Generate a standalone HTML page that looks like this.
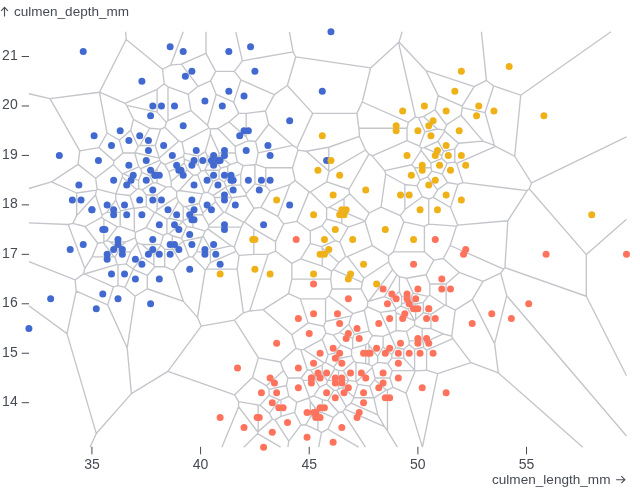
<!DOCTYPE html>
<html><head><meta charset="utf-8"><style>
html,body{margin:0;padding:0;background:#fff;}
svg{display:block;font-family:"Liberation Sans",sans-serif;will-change:transform;}
</style></head><body>
<svg width="640" height="503" viewBox="0 0 640 503">
<rect width="640" height="503" fill="#fff"/>
<path d="M321.5,246.69L310.32,243.42M321.5,246.69L322.27,248.04M321.5,246.69L335.37,240.6M322.27,248.04L322.27,266.02M322.27,248.04L338.76,262.54M335.37,240.6L339.74,242.04M335.37,240.6L321.95,225.85M310.32,230.96L296.81,221.46M310.32,230.96L310.32,243.42M310.32,230.96L321.95,225.85M310.32,243.42L300.7,258.91M300.7,258.91L291.84,263.36M300.7,258.91L322.27,266.02M322.27,266.02L331.72,271.21M345.7,256.44L347.46,256.55M345.7,256.44L339.74,242.04M345.7,256.44L338.76,262.54M338.76,262.54L333.43,269.56M339.74,242.04L348.19,227.19M326.61,219.01L326.61,208.11M326.61,219.01L321.95,225.85M326.61,219.01L341.83,223.46M341.83,223.46L341.83,212.78M341.83,223.46L348.19,227.19M291.84,279.06L288.52,293.65M291.84,279.06L330.61,279.06M291.84,279.06L291.84,263.36M333.43,269.56L362.34,282.26M333.43,269.56L331.72,271.21M348.19,227.19L364.97,221.29M331.72,271.21L330.61,279.06M330.61,279.06L332.01,288.95M341.83,212.78L344,211.82M341.83,212.78L329.23,207.24M326.61,208.11L329.23,207.24M326.61,208.11L310.31,191.99M365.04,221.07L369.14,212.98M365.04,221.07L344,211.82M365.04,221.07L364.97,221.29M344,211.82L344,198.59M363.88,278.2L388.55,261.94M363.88,278.2L347.46,256.55M363.88,278.2L362.34,282.26M347.46,256.55L372.34,245.61M364.97,221.29L372.34,245.61M309.05,191.87L295.11,180.48M309.05,191.87L296.81,221.46M309.05,191.87L310.31,191.99M296.81,221.46L283.59,223.95M329.23,207.24L344,198.59M344,198.59L349.6,193.66M275.55,251.08L268.13,254.34M275.55,251.08L291.84,263.36M275.55,251.08L275.55,241.63M332.01,288.95L328.98,296.06M332.01,288.95L361.17,288.95M362.34,282.26L361.17,288.95M328.98,296.06L352.94,313.61M328.98,296.06L325.53,298.84M283.59,223.95L277.85,216.38M283.59,223.95L275.55,241.63M289.91,184.6L270.15,191.11M289.91,184.6L277.85,216.38M289.91,184.6L295.11,180.48M277.85,216.38L260.87,207.43M393.35,251.86L403.87,221.82M393.35,251.86L388.55,255.79M393.35,251.86L424.4,251.86M372.34,245.61L388.55,255.79M349.6,193.66L369.14,212.98M349.6,193.66L348.93,189.24M361.17,288.95L367.86,301.68M253.81,228.9L253.81,254.34M253.81,228.9L275.55,241.63M253.81,228.9L244.4,222.01M300.34,298.84L308.15,322.85M300.34,298.84L325.53,298.84M300.34,298.84L288.52,293.65M325.53,298.84L325.53,321.49M368.66,301.24L384.52,296.6M368.66,301.24L392.65,269.61M368.66,301.24L367.86,301.68M244.4,222.01L243.71,222.35M244.4,222.01L254.01,208.29M268.13,254.34L253.81,254.34M268.13,254.34L249.73,310.96M253.81,254.34L239.12,255.41M288.52,293.65L263.26,309.69M369.14,212.98L381.04,207.09M310.31,191.99L326.7,181.91M348.93,189.24L368.87,154.19M348.93,189.24L326.7,181.91M384.52,296.6L396.9,274.83M384.52,296.6L390.65,299.29M388.55,255.79L388.55,261.94M263.26,309.69L291.84,334.8M263.26,309.69L249.73,310.96M325.53,321.49L323.71,326.27M325.53,321.49L351.25,315.84M326.7,181.91L329.08,171.44M323.71,326.27L325.96,333.18M323.71,326.27L308.15,322.85M352.94,313.61L351.25,315.84M352.94,313.61L364.31,310.27M295.11,180.48L292.48,167.79M260.87,207.43L270.15,191.11M260.87,207.43L254.01,208.29M270.15,191.11L265.77,186.3M367.86,301.68L367.22,306.7M388.55,261.94L392.65,269.61M329.08,171.44L328.79,171.05M329.08,171.44L365.6,150.04M328.79,171.05L328.79,147.25M328.79,171.05L306.22,151.22M292.48,167.79L297.95,150.18M292.48,167.79L265.77,167.79M365.6,150.04L359.43,136.48M365.6,150.04L368.87,154.19M367.22,306.7L380.25,312.42M367.22,306.7L364.31,310.27M291.84,334.8L295.93,348.3M291.84,334.8L308.15,322.85M348.86,324.25L354.54,334.25M348.86,324.25L351.25,315.84M348.86,324.25L339.46,332.5M265.77,167.79L255.82,164.3M265.77,167.79L265.77,186.3M265.77,186.3L254.9,183.91M339.46,332.5L352.69,338.32M339.46,332.5L333.43,335.15M396.09,308.84L400.88,306.04M396.09,308.84L390.65,299.29M396.09,308.84L395.31,310.22M390.65,299.29L399.41,291.6M392.65,269.61L396.9,274.83M396.9,274.83L399.41,276.67M381.04,207.09L400.3,215.56M381.04,207.09L385.75,174.01M399.41,276.67L406.44,278.22M399.41,276.67L399.41,291.6M404.84,209.57L404.84,184.51M404.84,209.57L400.3,215.56M404.84,209.57L422.36,196.75M359.43,136.48L358.88,128.23M359.43,136.48L328.79,147.25M333.43,335.15L340.84,344.91M333.43,335.15L325.96,333.18M354.54,334.25L352.69,338.32M354.54,334.25L369.04,331.06M364.31,310.27L369.04,331.06M246.21,195.71L232.01,197.79M246.21,195.71L254.01,208.29M246.21,195.71L246.21,193.46M239.12,255.41L236.03,251.34M239.12,255.41L237.17,269.17M369.04,331.06L372.39,335.47M401.59,296.37L411.36,296.37M401.59,296.37L399.41,291.6M401.59,296.37L401.59,304.18M241.2,227.14L208.46,227.14M241.2,227.14L234.27,246.94M241.2,227.14L243.71,222.35M254.9,164.76L243.12,165.63M254.9,164.76L254.9,183.91M254.9,164.76L255.82,164.3M254.9,183.91L246.21,193.46M380.25,312.42L389.76,333.32M380.25,312.42L395.31,310.22M352.69,338.32L352.69,348.37M396.15,330.51L406.5,331.42M396.15,330.51L396.15,312.81M396.15,330.51L389.76,333.32M243.71,222.35L225.41,212.3M225.41,212.3L223.59,212.3M225.41,212.3L232.01,197.79M401.59,304.18L411.36,299.88M401.59,304.18L400.88,306.04M406.44,278.22L413.22,293.11M406.44,278.22L426.02,274.78M400.3,215.56L403.87,221.82M368.87,154.19L372.29,155.94M325.96,333.18L322.22,339.2M352.69,348.37L351.6,349.64M352.69,348.37L365.73,344.55M234.27,246.94L236.03,251.34M234.27,246.94L231.03,245.8M236.03,251.34L210.35,262.62M249.73,310.96L243.37,312.82M400.88,306.04L408.04,309.18M413.22,293.11L427.88,296.33M413.22,293.11L411.36,296.37M306.22,151.22L297.95,150.18M306.22,151.22L328.79,147.25M297.95,150.18L297.05,147.82M240.78,185.1L232.08,185.1M240.78,185.1L246.21,193.46M240.78,185.1L240.78,173.86M237.17,269.17L206.1,269.17M237.17,269.17L243.37,312.82M424.4,226.34L428.75,224.11M424.4,226.34L403.87,221.82M424.4,226.34L424.4,251.86M424.4,251.86L433.74,260.07M411.36,296.37L411.36,299.88M231.03,245.8L211.12,250.18M231.03,245.8L207.9,228.87M206.1,269.17L210.35,262.62M206.1,269.17L205.21,269.85M207.9,228.87L208.46,227.14M207.9,228.87L205.17,231.03M303.57,349.44L324.01,362.91M303.57,349.44L322.22,339.2M303.57,349.44L300.84,349.84M322.22,339.2L328.06,354.59M243.37,312.82L234.53,320.04M395.31,310.22L396.15,312.81M411.36,299.88L414.27,303.71M396.15,312.81L414.62,320.93M414.27,303.71L415.71,304.03M414.27,303.71L408.04,309.18M232.01,197.79L231.64,197.47M208.46,227.14L208.76,225.33M210.35,262.62L210.35,251.86M334.58,353.16L340.38,358.26M334.58,353.16L340.84,344.91M334.58,353.16L328.06,354.59M340.84,344.91L351.6,349.64M389.76,333.32L389.5,333.6M372.39,335.47L383.11,336.41M372.39,335.47L367.97,343.24M408.04,309.18L414.65,320.8M231.64,197.47L225.73,187.08M231.64,197.47L214.38,197.47M223.59,212.3L215.61,201.78M223.59,212.3L208.76,225.33M225.73,187.08L213.18,195.35M225.73,187.08L225.93,186.45M240.78,173.86L232.08,177.68M240.78,173.86L243.12,165.63M414.65,320.8L415.71,319.41M414.65,320.8L414.62,320.93M385.75,174.01L384.67,170.71M385.75,174.01L404.84,184.51M232.08,177.68L227.74,177.68M232.08,177.68L232.08,185.1M232.08,185.1L225.93,186.45M328.06,354.59L325.52,362.42M351.6,349.64L351.6,355.8M325.52,362.42L333.63,367.17M325.52,362.42L324.01,362.91M426.02,274.78L433.74,260.07M426.02,274.78L429.84,284.01M433.74,260.07L443.31,258.49M427.88,296.33L429.84,295.26M427.88,296.33L423.32,302.36M292.6,145.31L268.67,124.27M292.6,145.31L258.18,152.87M292.6,145.31L297.05,147.82M243.12,165.63L237.43,162.13M351.6,355.8L354.04,361.16M351.6,355.8L340.38,358.26M415.71,319.41L423.32,312.72M415.71,319.41L415.71,304.03M415.71,304.03L423.32,302.36M423.32,312.72L423.32,302.36M423.32,312.72L430.92,314.39M416.83,185.82L420.12,180.04M416.83,185.82L404.84,184.51M416.83,185.82L422.36,196.75M422.36,196.75L428.75,198.99M255.82,164.3L258.18,152.87M225.93,186.45L224.31,182.2M367.97,343.24L368.99,345.04M367.97,343.24L365.73,344.55M214.38,197.47L215.61,201.78M214.38,197.47L213.18,195.35M215.61,201.78L202.75,213.09M365.73,363.49L368.99,364.56M365.73,363.49L365.73,344.55M365.73,363.49L355.95,362.41M202.16,237L196.53,251.86M202.16,237L203.09,236.05M202.16,237L183.19,241.17M211.12,250.18L203.09,236.05M211.12,250.18L210.35,251.86M300.84,349.84L307.33,369.79M300.84,349.84L295.93,348.3M368.99,364.56L372.25,366M368.99,364.56L368.99,345.04M210.35,251.86L196.53,251.86M340.38,358.26L333.63,367.17M368.99,345.04L377.68,356.5M333.63,367.17L334.73,368.86M224.31,182.2L219.05,178.72M224.31,182.2L227.74,177.68M227.74,177.68L227.74,166.2M227.74,166.2L220.93,168.2M227.74,166.2L229.93,164.6M428.75,224.11L456.43,226.13M428.75,224.11L428.75,198.99M213.18,195.35L208.02,192.52M203.09,236.05L205.17,231.03M258.18,152.87L255.59,141.51M377.68,356.5L383.11,346.95M377.68,356.5L377.68,362.41M383.11,346.95L391.81,354.59M383.11,346.95L383.11,336.41M383.11,336.41L389.5,333.6M295.93,348.3L280.37,361.98M324.01,362.91L322.27,365.21M428.75,198.99L433.25,197.41M414.62,320.93L414.62,325.17M377.68,362.41L387.76,363.52M377.68,362.41L372.25,366M389.5,333.6L395.83,347.51M429.84,284.01L446.13,284.01M429.84,284.01L429.84,295.26M450.48,207.5L458.01,184.33M450.48,207.5L433.25,197.41M450.48,207.5L457.79,225.17M395.83,347.51L403.76,349.25M395.83,347.51L391.81,354.59M411.78,164.75L421.14,150.35M411.78,164.75L384.67,170.71M411.78,164.75L414.55,167.79M384.67,170.71L372.29,155.94M310.71,370.29L315.75,376.93M310.71,370.29L322.27,365.21M310.71,370.29L307.33,369.79M354.04,361.16L343.36,370.55M354.04,361.16L355.95,362.41M322.27,365.21L322.27,374.06M420.12,180.04L427.57,176.77M420.12,180.04L414.55,167.79M414.62,325.17L422.23,328.51M414.62,325.17L406.5,331.42M429.84,295.26L444.89,305.19M444.89,305.19L446.13,305.46M444.89,305.19L430.92,314.39M219.05,178.72L219.05,170.27M219.05,178.72L213.12,181.33M208.02,192.52L213.12,181.33M208.02,192.52L204.33,192.52M219.05,170.27L204.8,170.27M219.05,170.27L220.93,168.2M427.57,176.77L431.86,171.11M427.57,176.77L437.52,189.9M430.92,167.79L430.92,163.24M430.92,167.79L414.55,167.79M430.92,167.79L431.86,171.11M343.36,370.55L348.94,380.37M343.36,370.55L338.57,370.55M202.75,214.77L208.76,225.33M202.75,214.77L202.75,213.09M202.75,214.77L194.7,214.77M196.53,251.86L192.65,256.97M205.21,269.85L192.65,256.97M205.21,269.85L197.49,317.37M258.42,357.84L252.43,377.57M258.42,357.84L280.37,361.98M258.42,357.84L234.53,320.04M297.05,147.82L312.72,113.4M255.59,141.51L268.67,124.27M255.59,141.51L248.32,140.71M312.72,113.4L287.33,85.51M312.72,113.4L356.89,113.4M192.97,216.29L192.97,227.46M192.97,216.29L194.7,214.77M192.97,216.29L183.19,220.59M322.27,374.06L315.75,376.93M322.27,374.06L327.52,380.99M334.73,368.86L328.15,380.44M334.73,368.86L338.57,370.55M315.75,376.93L315.75,380.44M391.81,354.59L391.81,358.19M406.5,331.42L409.19,340.88M391.81,358.19L403.76,358.19M391.81,358.19L387.76,363.52M307.33,369.79L301.13,377.97M437.52,189.9L447.62,182.51M437.52,189.9L433.25,197.41M328.15,380.44L338.57,380.44M328.15,380.44L327.52,380.99M204.75,170.3L201.08,171.11M204.75,170.3L213.12,181.33M204.75,170.3L204.8,170.27M205.17,231.03L192.97,227.46M202.75,213.09L199.12,203.53M192.97,227.46L186.79,226.55M356.4,381.79L372.25,367.85M356.4,381.79L355.95,381.39M356.4,381.79L357.88,384.39M355.95,362.41L355.95,381.39M199.12,203.53L185.35,206.56M199.12,203.53L202.26,193.88M338.57,370.55L338.57,380.44M409.19,340.88L422.23,340.88M409.19,340.88L409.19,344.48M430.92,314.39L430.92,328.51M237.43,162.13L229.93,164.6M237.43,162.13L235.34,152.96M229.93,164.6L219.05,155.04M235.34,152.96L219.05,152.96M235.34,152.96L235.34,146.41M189.06,256.66L180.04,261.61M189.06,256.66L192.65,256.97M189.06,256.66L183.19,241.19M280.37,361.98L283.41,370.66M430.92,328.51L443.36,333.98M430.92,328.51L422.23,328.51M219.05,155.04L214.7,158.86M219.05,155.04L219.05,165.71M219.05,155.04L219.05,155.04M220.93,168.2L219.05,165.71M456.43,226.13L457.79,225.17M456.43,226.13L450.14,245.5M443.31,258.49L450.14,245.5M443.31,258.49L459.24,272.49M219.05,165.71L214.7,161.89M186.79,226.55L183.01,221.56M186.79,226.55L181.4,238.41M194.7,214.77L185.35,206.56M185.35,206.56L183.19,206.24M202.26,193.88L204.33,192.52M202.26,193.88L179.2,190.5M446.13,305.46L455.21,310.11M446.13,305.46L446.13,284.01M446.13,284.01L459.24,272.49M422.23,328.51L422.23,340.88M409.19,344.48L414.62,349.25M409.19,344.48L403.76,349.25M403.76,349.25L403.76,358.19M315.75,380.44L303.01,380.44M315.75,380.44L319.52,387.07M327.52,380.99L326.55,383.98M338.57,380.44L338.57,380.44M338.57,380.44L348.84,380.44M303.01,380.44L309.47,397.48M303.01,380.44L301.13,377.97M301.13,377.97L287.95,377.97M214.7,161.89L214.7,158.86M214.7,161.89L207.09,165.24M219.05,155.04L219.05,152.96M235.34,146.41L217.88,128.5M235.34,146.41L248.32,140.71M348.94,380.37L348.84,380.44M348.94,380.37L355.95,381.39M326.55,383.98L333.77,390.33M326.55,383.98L319.52,387.07M268.67,124.27L265.49,110.98M338.57,380.44L338.57,388.81M204.33,192.52L197.57,174.71M248.32,140.71L246.21,137M407.02,140.68L372.29,155.94M407.02,140.68L419.48,146.16M407.02,140.68L407.02,128.23M407.02,128.23L358.88,128.23M407.02,128.23L408.37,122.28M372.25,366L372.25,367.85M403.76,358.19L414.62,370.12M423.32,342.79L443.36,333.98M423.32,342.79L422.23,340.88M423.32,342.79L423.32,347.34M455.21,310.11L451.72,336.18M455.21,310.11L472.27,299.4M246.21,113.4L238.8,113.4M246.21,113.4L246.21,137M246.21,113.4L265.49,110.98M246.21,137L229.08,121.94M219.05,152.96L210.35,133.86M387.76,363.52L392.33,370.55M423.32,347.34L426.58,350.21M423.32,347.34L414.62,349.25M210.35,133.86L210.35,128.87M210.35,133.86L205.31,151.59M214.7,158.86L207.09,155.52M204.8,170.27L207.09,165.24M372.25,367.85L375.12,377.97M234.53,320.04L201.25,326.2M205.31,151.59L207.09,155.52M205.31,151.59L198.4,156.15M197.57,174.71L193.14,175.19M197.57,174.71L201.08,171.11M207.09,165.24L207.09,155.52M421.14,150.35L421.14,148.17M421.14,150.35L430.92,163.24M358.88,128.23L356.89,113.4M431.86,171.11L442.17,174.12M459.24,272.49L483.02,281.45M183.19,241.19L173.35,249.84M183.19,241.19L183.19,241.17M183.19,241.17L181.4,238.41M183.01,221.56L182.95,221.34M183.01,221.56L169.05,233.84M183.19,220.59L183.19,206.24M183.19,220.59L182.95,221.34M287.95,377.97L286.39,385.47M287.95,377.97L283.41,370.66M338.57,388.81L343.27,387.78M338.57,388.81L336.84,390.33M343.27,387.78L353.78,397.01M343.27,387.78L348.84,380.44M447.62,182.51L442.17,174.12M447.62,182.51L458.01,184.33M442.17,174.12L447.15,163.18M183.19,206.24L178.5,201.44M375.12,377.97L374.6,379.81M375.12,377.97L389.92,377.97M319.52,387.07L313.72,395.99M283.41,370.66L266.3,385.7M503.71,269.05L504.92,267.64M503.71,269.05L450.14,245.5M503.71,269.05L500.68,273.04M414.62,349.25L414.62,370.12M443.36,333.98L451.72,336.18M414.62,370.12L414.82,370.55M414.82,370.55L415.24,370.92M414.82,370.55L392.33,370.55M430.92,163.24L441.79,158.47M313.72,395.99L322.27,399.74M313.72,395.99L309.47,397.48M198.4,156.15L198.4,165.24M198.4,156.15L184.29,153.05M181.4,238.41L172.32,235.75M180.04,261.61L173.35,249.84M180.04,261.61L173.31,270.48M457.79,225.17L507.81,220.77M441.79,155.35L443.64,151.27M441.79,155.35L424.01,147.54M441.79,155.35L441.79,158.47M197.49,317.37L201.25,326.2M197.49,317.37L183.37,301.42M201.25,326.2L167.85,371.37M269.03,389.29L269.03,395.36M269.03,389.29L286.39,385.47M269.03,389.29L266.3,385.7M336.84,390.33L346.23,406.83M336.84,390.33L333.77,390.33M374.6,379.81L386.23,390.03M374.6,379.81L369.8,386.14M172.32,235.75L169.05,233.84M172.32,235.75L172.32,249.39M178.5,201.44L168.93,218.26M178.5,201.44L176.67,197.01M179.2,190.5L176.67,191.39M179.2,190.5L193.14,175.19M182.95,221.34L168.93,218.26M357.88,384.39L369.8,386.14M357.88,384.39L353.78,397.01M392.33,370.55L389.92,377.97M458.01,184.33L462.88,182.55M441.79,158.47L447.15,163.18M419.48,146.16L424.93,131.78M419.48,146.16L421.14,148.17M421.14,148.17L424.01,147.54M169.05,233.84L166.89,233.36M173.35,249.84L172.32,249.39M172.32,249.39L164.72,249.39M333.77,390.33L327.94,400.57M353.78,397.01L353.78,397.75M327.94,400.57L338.82,412.53M327.94,400.57L322.27,399.74M309.47,397.48L308.99,398.01M353.78,397.75L373.57,397.75M353.78,397.75L351.07,403.11M392.99,387.42L406.04,393.16M392.99,387.42L389.92,377.97M392.99,387.42L387.46,389.85M426.58,350.21L426.58,370.21M426.58,350.21L452.85,338.66M369.8,386.14L373.57,397.75M266.3,385.7L252.43,377.57M286.39,385.47L288.85,396.28M198.4,165.24L184.28,159.03M198.4,165.24L201.08,171.11M210.35,128.87L217.88,128.5M210.35,128.87L208.89,128.01M426.58,370.21L437.63,373.68M426.58,370.21L415.24,370.92M451.72,336.18L452.85,338.66M483.02,281.45L472.27,299.4M483.02,281.45L500.68,273.04M362.23,102L370.62,67.92M362.23,102L356.89,113.4M362.23,102L408.37,122.28M265.49,110.98L274.33,94.65M187.6,170.32L179.93,173.69M187.6,170.32L193.14,175.19M187.6,170.32L184.28,163.02M168.93,218.26L166.89,219.16M161,245.31L153.85,254.73M161,245.31L164.72,249.39M161,245.31L160.76,244.45M438.02,141.38L444.69,131.12M438.02,141.38L424.01,147.54M438.02,141.38L443.64,151.27M408.37,122.28L415.45,116.84M454.83,162.05L454.83,148.81M454.83,162.05L447.15,163.18M454.83,162.05L456.65,163.39M176.67,197.01L157.11,209.9M176.67,197.01L176.67,191.39M164.72,249.39L164.72,266.7M229.08,121.94L217.88,128.5M229.08,121.94L238.8,113.4M184.28,163.02L179.93,166.84M184.28,163.02L184.28,159.03M252.43,377.57L234.59,394.83M314.66,407.25L320.73,412.58M314.66,407.25L310.32,401.52M314.66,407.25L314.66,415.06M415.45,116.84L398.55,42.6M415.45,116.84L418.5,117.64M179.93,166.84L179.93,173.69M179.93,166.84L168.81,171.73M176.67,191.39L171.24,186.62M443.64,151.27L454.83,148.81M424.93,131.78L437.46,129.03M424.93,131.78L418.5,117.64M454.83,148.81L458.46,143.23M288.85,396.28L296.71,402.33M288.85,396.28L280.98,399.74M351.07,403.11L377.75,414.83M351.07,403.11L346.23,406.83M373.57,397.75L373.95,398.13M322.27,399.74L322.27,412.58M346.23,406.83L344.76,409.19M386.23,390.03L373.95,398.13M386.23,390.03L387.46,389.85M437.46,129.03L423.3,116.59M437.46,129.03L444.5,130.06M184.28,159.03L183.53,156.41M179.93,173.69L171.24,181.33M166.89,233.36L163.36,235.3M166.89,233.36L166.89,219.16M173.31,270.48L164.72,266.7M173.31,270.48L183.37,301.42M269.03,395.36L260.12,405.15M269.03,395.36L279.49,399.96M155.45,212.45L154.6,212.68M155.45,212.45L166.89,219.16M155.45,212.45L157.11,209.9M373.95,398.13L377.75,414.83M415.24,370.92L406.04,393.16M164.72,266.7L154.81,266.7M280.98,399.74L280.98,416.33M280.98,399.74L279.49,399.96M462.88,182.55L527.16,190.62M462.88,182.55L456.65,163.39M444.5,130.06L446.46,124.9M444.5,130.06L444.69,131.12M527.16,190.62L529.22,188.76M527.16,190.62L507.81,220.77M387.46,430.91L397.34,447.2M387.46,430.91L387.46,389.85M387.46,430.91L384.46,426.63M322.27,412.58L320.73,412.58M322.27,412.58L333.26,417.41M344.76,409.19L384.46,426.63M344.76,409.19L342.45,411.73M377.75,414.83L384.46,426.63M310.32,401.52L308.99,398.01M310.32,401.52L310.32,416.97M308.99,398.01L296.71,402.33M183.53,156.41L164.78,164.65M183.53,156.41L184.29,153.05M171.24,186.62L166.13,187.07M171.24,186.62L171.24,181.33M279.49,399.96L269.38,413.29M296.71,402.33L294.65,412.33M305.77,424.95L310.32,416.97M305.77,424.95L301.03,424.95M305.77,424.95L317.92,430.28M157.11,194.99L157.11,209.9M157.11,194.99L166.13,187.07M157.11,194.99L146.25,194.99M456.65,163.39L495.56,146.3M444.69,131.12L458.46,143.23M418.5,117.64L423.3,116.59M160.76,244.45L142.15,244.45M160.76,244.45L163.36,235.3M154.81,266.7L153.85,265.01M154.81,266.7L147.33,275.46M163.36,235.3L146.05,227.7M146.05,227.7L135.38,232.39M146.05,227.7L154.6,212.68M471.05,362.66L498.32,372.93M471.05,362.66L452.85,338.66M471.05,362.66L437.63,373.68M507.81,220.77L504.92,267.64M274.33,94.65L240.87,79.95M274.33,94.65L287.33,85.51M184.29,153.05L182.04,142.16M342.45,411.73L338.82,412.53M342.45,411.73L365.51,447.2M317.92,415.06L317.92,430.28M317.92,415.06L320.73,412.58M317.92,415.06L314.66,415.06M314.66,415.06L310.32,416.97M294.65,412.33L301.03,424.95M294.65,412.33L280.98,416.33M238.8,113.4L233.67,102.12M142.15,244.45L137.07,242.96M142.15,244.45L153.85,254.73M153.85,254.73L153.85,265.01M142.06,257.24L153.85,265.01M142.06,257.24L136.93,243.7M142.06,257.24L133.13,269.03M422.42,447.16L437.63,373.68M422.42,447.16L406.04,393.16M422.42,447.16L422.43,447.2M434.97,109.75L438.19,95.63M434.97,109.75L423.3,116.59M434.97,109.75L446.46,124.9M370.62,67.92L398.55,42.6M370.62,67.92L295.72,56.95M338.82,412.53L333.26,417.41M171.24,181.33L168.81,171.73M182.04,142.16L178.8,140.98M182.04,142.16L208.89,128.01M168.81,171.73L164.78,164.65M164.78,164.65L160.97,162.14M166.13,187.07L157.11,183.11M136.93,243.7L137.07,242.96M136.93,243.7L130.74,251.86M274.97,419.85L288.78,441.09M274.97,419.85L280.98,416.33M274.97,419.85L272.35,419.16M327.89,429.22L358.58,447.2M327.89,429.22L333.26,417.41M327.89,429.22L321.45,432.61M269.38,413.29L272.35,419.16M269.38,413.29L260.12,405.15M260.12,405.15L258.16,404.97M483.04,141.07L461.04,115.29M483.04,141.07L458.46,143.23M483.04,141.07L494.36,145.42M147.33,288.75L135.06,296.3M147.33,288.75L183.37,301.42M147.33,288.75L147.33,275.46M258.16,404.97L258.16,431.63M258.16,404.97L238.6,401.54M154.6,212.68L146.25,206.56M233.67,102.12L240.87,79.95M233.67,102.12L216.19,94.44M208.89,128.01L207.45,125.17M240.87,79.95L234.36,71.36M157.11,183.11L157.11,168.92M157.11,183.11L153.37,182.56M157.11,168.92L149.44,175.66M157.11,168.92L160.97,162.14M160.97,162.14L159.75,160.34M238.6,406.72L238.6,401.54M238.6,406.72L221.85,447.2M238.6,406.72L257.79,432.01M317.92,430.28L321.45,432.61M146.25,194.99L146.25,206.56M146.25,194.99L142.33,189.83M146.25,206.56L134.29,208.31M288.78,441.09L287.91,447.2M288.78,441.09L301.03,424.95M238.6,401.54L234.59,394.83M494.61,343.58L506.73,295.64M494.61,343.58L472.27,299.4M494.61,343.58L498.32,372.93M207.45,125.17L190.86,110.59M207.45,125.17L216.19,94.44M446.46,124.9L461.04,115.29M137.07,242.96L135.38,237.76M147.33,275.46L133.27,269.29M216.19,94.44L210.57,80.85M159.75,160.34L140.75,168.69M159.75,160.34L159.32,158.09M153.37,182.56L149.44,175.66M153.37,182.56L142.33,189.83M149.44,175.66L141.77,172.29M135.38,232.39L134.29,231.34M135.38,232.39L135.38,237.76M178.8,140.98L164.93,127.27M178.8,140.98L159.32,158.09M159.29,158.06L159.32,158.09M159.29,158.06L155.22,145.54M159.29,158.06L135.01,152.72M293.1,51.9L242.36,60.82M293.1,51.9L295.72,56.95M293.1,51.9L289.39,31.8M287.33,85.51L295.72,56.95M210.57,80.85L215.65,71.36M210.57,80.85L198.1,86.33M142.33,189.83L138.64,188.62M133.27,269.29L125,287.47M133.27,269.29L133.13,269.03M272.35,419.16L258.16,431.63M258.16,431.63L257.79,432.01M141.77,172.29L140.75,168.69M141.77,172.29L138.64,180.55M133.94,208L120.7,210.91M133.94,208L134.29,208.31M133.94,208L129.86,195.46M155.22,145.54L160.53,129.2M155.22,145.54L139.85,145.54M321.45,432.61L318.69,447.2M257.79,432.01L257.5,433.67M234.59,394.83L167.85,371.37M129.86,195.46L136.66,189.48M129.86,195.46L115.89,193.93M134.29,208.31L134.29,231.34M133.13,269.03L126.16,263.93M160.53,129.2L164.93,127.27M160.53,129.2L149.69,128.25M138.64,188.62L136.66,189.48M138.64,188.62L138.64,180.55M131.39,393.66L96.33,433.57M131.39,393.66L167.85,371.37M131.39,393.66L127.22,347.93M126.16,263.93L118,264.82M126.16,263.93L130.74,251.86M135.06,296.3L125,287.47M135.06,296.3L127.22,347.93M125.8,241.97L118,248.83M125.8,241.97L135.38,237.76M125.8,241.97L110.2,241.97M130.74,251.86L118,251.86M140.75,168.69L138.71,166.9M138.71,166.9L123.14,173.74M138.71,166.9L134.74,152.96M138.64,180.55L123.14,173.74M494.36,145.42L485.01,112.54M494.36,145.42L495.56,146.3M461.04,115.29L462.3,107.55M438.19,95.63L462.08,106.13M438.19,95.63L426.02,70.68M398.55,42.6L399.08,41.93M495.56,146.3L514.69,156.24M498.32,372.93L582.83,447.2M500.68,273.04L506.73,295.64M134.74,152.96L122.98,152.96M134.74,152.96L135.01,152.72M122.34,176.9L115.89,193.93M122.34,176.9L136.66,189.48M122.34,176.9L122.34,173.85M164.93,127.27L166.43,122.35M188.19,94.17L167.98,86.77M188.19,94.17L190.86,110.59M188.19,94.17L198.1,86.33M190.86,110.59L167.98,120.64M134.29,231.34L120.17,226.37M118,251.86L118,248.83M118,251.86L114.9,257.31M118,264.82L117.2,264.39M118,264.82L118,285.62M120.17,226.37L117.3,226.88M120.17,226.37L120.17,212.3M123.14,173.74L122.34,173.85M103.13,242.29L114.14,256.81M103.13,242.29L103.87,241.89M103.13,242.29L97.72,243.24M462.08,106.13L474.22,86.57M462.08,106.13L462.3,107.55M120.17,212.3L120.7,210.91M120.17,212.3L106.64,212.3M110.2,241.97L106.94,240.54M110.2,241.97L118,248.83M243.81,447.2L257.5,433.67M257.5,433.67L280.6,447.2M135.01,152.72L138.13,146.55M120.7,210.91L115.82,200.19M139.85,145.54L138.13,146.55M139.85,145.54L149.69,128.25M118,285.62L113.5,286.81M118,285.62L125,287.47M115.82,200.19L115.82,193.95M115.82,200.19L106.64,212.3M485.01,112.54L493.64,85.97M485.01,112.54L462.3,107.55M115.89,193.93L115.82,193.95M114.9,257.31L117.2,264.39M114.9,257.31L114.14,256.81M117.2,264.39L84.37,274M106.94,240.54L117.3,226.88M106.94,240.54L103.87,241.89M234.36,71.36L242.36,60.82M234.36,71.36L215.65,71.36M149.69,128.25L133.45,119.33M167.98,86.77L164.19,83.72M167.98,86.77L167.98,120.64M167.98,120.64L166.43,122.35M117.3,226.88L103.87,219.01M114.14,256.81L92.11,256.81M113.5,286.81L84.37,274M113.5,286.81L107.63,304.88M626.5,375.75L586.3,296.25M626.5,435.98L506.73,295.64M399.08,41.93L402.15,31.8M399.08,41.93L426.02,70.68M166.43,122.35L157.11,112.12M242.36,60.82L235.75,31.8M106.64,212.3L102.1,215.29M103.87,219.01L103.87,241.89M103.87,219.01L101.63,217.37M92.11,256.81L97.72,243.24M92.11,256.81L84.88,268.46M122.34,173.85L113.36,164.64M215.65,71.36L206.01,53.35M157.11,112.12L157.11,89.32M157.11,112.12L126.67,105.43M198.1,86.33L181.32,64.2M138.13,146.55L130.7,130.22M113.36,164.64L95.64,178.26M113.36,164.64L113.97,160.88M115.82,193.95L97.18,189.04M101.63,217.37L85.02,226.49M101.63,217.37L102.1,215.29M514.69,156.24L520.73,95.23M514.69,156.24L531.53,182.87M474.22,86.57L486.44,80.43M474.22,86.57L426.02,70.68M157.11,89.32L125.12,103.38M157.11,89.32L164.19,83.72M130.7,130.22L119.35,140.19M130.7,130.22L133.45,119.33M133.45,119.33L126.67,105.43M76.21,291.07L107.63,304.88M76.21,291.07L75.15,279.95M76.21,291.07L66.98,333.61M84.37,274L83.43,273.89M127.22,347.93L107.63,304.88M486.44,80.43L481.41,31.8M486.44,80.43L493.64,85.97M504.92,267.64L586.3,296.25M126.67,105.43L125.12,103.38M122.98,152.96L119.35,140.19M122.98,152.96L113.97,160.88M95.5,194.98L76.71,215.63M95.5,194.98L102.1,215.29M95.5,194.98L96.43,190.11M125.12,103.38L99.55,92.14M96.43,190.11L97.18,189.04M96.43,190.11L76.71,193M97.72,243.24L85.02,226.49M119.35,140.19L107.1,133.01M83.43,273.89L75.15,279.95M83.43,273.89L84.88,268.46M85.02,226.49L72.77,223.42M181.32,64.2L206.01,53.35M181.32,64.2L170.59,65.15M164.19,83.72L162.55,69.27M206.01,53.35L206.01,31.8M183.23,31.8L170.59,65.15M98.82,147.56L79.76,150.91M98.82,147.56L113.97,160.88M98.82,147.56L107.1,133.01M72.77,223.42L76.71,215.63M72.77,223.42L68.22,224.53M162.55,69.27L126.15,39.56M162.55,69.27L170.59,65.15M107.1,133.01L99.37,92.23M97.18,189.04L95.64,178.26M95.64,178.26L78.06,164.36M68.22,224.53L28.9,222.8M68.22,224.53L84.88,268.46M78.06,164.36L51.45,181.9M78.06,164.36L79.76,150.91M76.71,215.63L76.71,193M50.01,98.61L79.76,150.91M50.01,98.61L99.37,92.23M99.37,92.23L99.55,92.14M51.45,181.9L28.9,188.51M51.45,181.9L76.71,193M531.53,182.87L626.5,136.96M531.53,182.87L529.22,188.76M493.64,85.97L520.73,95.23M586.3,254.61L626.5,219.28M586.3,254.61L529.22,188.76M586.3,254.61L586.3,296.25M28.9,261.65L75.15,279.95M96.33,433.57L66.98,333.61M96.33,433.57L89.99,447.2M99.55,92.14L126.15,39.56M28.9,305.72L66.98,333.61M125.7,31.8L126.15,39.56M50.01,98.61L28.9,93.75M520.73,95.23L610.94,31.8" fill="none" stroke="#c3c5ca" stroke-width="1.35"/>
<g fill="#464a53">
<g stroke="#464a53" stroke-width="1"><line x1="91.92" x2="91.92" y1="446.8" y2="454.3"/><line x1="200.57" x2="200.57" y1="446.8" y2="454.3"/><line x1="309.23" x2="309.23" y1="446.8" y2="454.3"/><line x1="417.88" x2="417.88" y1="446.8" y2="454.3"/><line x1="526.54" x2="526.54" y1="446.8" y2="454.3"/><line x1="21.7" x2="29" y1="402.69" y2="402.69"/><line x1="21.7" x2="29" y1="353.24" y2="353.24"/><line x1="21.7" x2="29" y1="303.79" y2="303.79"/><line x1="21.7" x2="29" y1="254.34" y2="254.34"/><line x1="21.7" x2="29" y1="204.88" y2="204.88"/><line x1="21.7" x2="29" y1="155.43" y2="155.43"/><line x1="21.7" x2="29" y1="105.98" y2="105.98"/><line x1="21.7" x2="29" y1="56.53" y2="56.53"/></g>
<g text-anchor="middle" font-size="14"><text x="91.92" y="468.8">35</text><text x="200.57" y="468.8">40</text><text x="309.23" y="468.8">45</text><text x="417.88" y="468.8">50</text><text x="526.54" y="468.8">55</text></g>
<g text-anchor="end" font-size="14"><text x="17.7" y="406.09">14</text><text x="17.7" y="356.64">15</text><text x="17.7" y="307.19">16</text><text x="17.7" y="257.74">17</text><text x="17.7" y="208.28">18</text><text x="17.7" y="158.83">19</text><text x="17.7" y="109.38">20</text><text x="17.7" y="59.93">21</text></g>
<text x="14" y="16.3" font-size="13.5" textLength="115" lengthAdjust="spacingAndGlyphs">culmen_depth_mm</text>
<text x="492" y="483.6" font-size="13.5" textLength="118.5" lengthAdjust="spacingAndGlyphs">culmen_length_mm</text>
<g fill="none" stroke="#464a53" stroke-width="1.1" stroke-linecap="butt" stroke-linejoin="miter">
<path d="M4.5 16.4V7.4M1.2 10.8L4.5 7.4L7.9 10.8"/>
<path d="M616.1 479.7H624.9M621.3 476.2L624.9 479.7L621.3 483.2"/>
</g>
</g>
<g><circle cx="181.02" cy="170.27" r="3.5" fill="#4269d0"/><circle cx="189.71" cy="234.55" r="3.5" fill="#4269d0"/><circle cx="207.09" cy="204.88" r="3.5" fill="#4269d0"/><circle cx="128.86" cy="140.60" r="3.5" fill="#4269d0"/><circle cx="185.36" cy="76.31" r="3.5" fill="#4269d0"/><circle cx="176.67" cy="214.77" r="3.5" fill="#4269d0"/><circle cx="183.19" cy="125.76" r="3.5" fill="#4269d0"/><circle cx="72.36" cy="199.94" r="3.5" fill="#4269d0"/><circle cx="244.04" cy="96.09" r="3.5" fill="#4269d0"/><circle cx="152.77" cy="249.39" r="3.5" fill="#4269d0"/><circle cx="152.77" cy="239.50" r="3.5" fill="#4269d0"/><circle cx="224.48" cy="224.66" r="3.5" fill="#4269d0"/><circle cx="170.15" cy="46.64" r="3.5" fill="#4269d0"/><circle cx="83.23" cy="51.58" r="3.5" fill="#4269d0"/><circle cx="126.69" cy="214.77" r="3.5" fill="#4269d0"/><circle cx="172.32" cy="155.43" r="3.5" fill="#4269d0"/><circle cx="254.90" cy="71.36" r="3.5" fill="#4269d0"/><circle cx="78.88" cy="185.10" r="3.5" fill="#4269d0"/><circle cx="330.96" cy="31.80" r="3.5" fill="#4269d0"/><circle cx="152.77" cy="190.05" r="3.5" fill="#4269d0"/><circle cx="150.59" cy="170.27" r="3.5" fill="#4269d0"/><circle cx="111.48" cy="145.54" r="3.5" fill="#4269d0"/><circle cx="161.46" cy="199.94" r="3.5" fill="#4269d0"/><circle cx="174.50" cy="244.45" r="3.5" fill="#4269d0"/><circle cx="98.44" cy="160.38" r="3.5" fill="#4269d0"/><circle cx="213.61" cy="175.21" r="3.5" fill="#4269d0"/><circle cx="211.44" cy="209.83" r="3.5" fill="#4269d0"/><circle cx="154.94" cy="175.21" r="3.5" fill="#4269d0"/><circle cx="211.44" cy="160.38" r="3.5" fill="#4269d0"/><circle cx="189.71" cy="269.17" r="3.5" fill="#4269d0"/><circle cx="139.73" cy="199.94" r="3.5" fill="#4269d0"/><circle cx="189.71" cy="214.77" r="3.5" fill="#4269d0"/><circle cx="220.13" cy="160.38" r="3.5" fill="#4269d0"/><circle cx="122.34" cy="254.34" r="3.5" fill="#4269d0"/><circle cx="183.19" cy="51.58" r="3.5" fill="#4269d0"/><circle cx="174.50" cy="105.98" r="3.5" fill="#4269d0"/><circle cx="248.38" cy="180.16" r="3.5" fill="#4269d0"/><circle cx="148.42" cy="140.60" r="3.5" fill="#4269d0"/><circle cx="196.23" cy="150.49" r="3.5" fill="#4269d0"/><circle cx="124.52" cy="204.88" r="3.5" fill="#4269d0"/><circle cx="217.96" cy="185.10" r="3.5" fill="#4269d0"/><circle cx="113.65" cy="180.16" r="3.5" fill="#4269d0"/><circle cx="289.67" cy="120.81" r="3.5" fill="#4269d0"/><circle cx="135.38" cy="259.28" r="3.5" fill="#4269d0"/><circle cx="191.88" cy="165.32" r="3.5" fill="#4269d0"/><circle cx="224.48" cy="155.43" r="3.5" fill="#4269d0"/><circle cx="146.25" cy="160.38" r="3.5" fill="#4269d0"/><circle cx="113.65" cy="209.83" r="3.5" fill="#4269d0"/><circle cx="250.56" cy="46.64" r="3.5" fill="#4269d0"/><circle cx="191.88" cy="219.72" r="3.5" fill="#4269d0"/><circle cx="202.75" cy="160.38" r="3.5" fill="#4269d0"/><circle cx="91.92" cy="209.83" r="3.5" fill="#4269d0"/><circle cx="244.04" cy="130.70" r="3.5" fill="#4269d0"/><circle cx="81.05" cy="199.94" r="3.5" fill="#4269d0"/><circle cx="231.00" cy="175.21" r="3.5" fill="#4269d0"/><circle cx="178.84" cy="229.61" r="3.5" fill="#4269d0"/><circle cx="213.61" cy="165.32" r="3.5" fill="#4269d0"/><circle cx="124.52" cy="274.12" r="3.5" fill="#4269d0"/><circle cx="148.42" cy="150.49" r="3.5" fill="#4269d0"/><circle cx="107.13" cy="259.28" r="3.5" fill="#4269d0"/><circle cx="228.82" cy="51.58" r="3.5" fill="#4269d0"/><circle cx="148.42" cy="254.34" r="3.5" fill="#4269d0"/><circle cx="224.48" cy="194.99" r="3.5" fill="#4269d0"/><circle cx="122.34" cy="249.39" r="3.5" fill="#4269d0"/><circle cx="235.34" cy="204.88" r="3.5" fill="#4269d0"/><circle cx="102.79" cy="293.90" r="3.5" fill="#4269d0"/><circle cx="224.48" cy="150.49" r="3.5" fill="#4269d0"/><circle cx="111.48" cy="274.12" r="3.5" fill="#4269d0"/><circle cx="239.69" cy="135.65" r="3.5" fill="#4269d0"/><circle cx="59.32" cy="155.43" r="3.5" fill="#4269d0"/><circle cx="194.05" cy="185.10" r="3.5" fill="#4269d0"/><circle cx="191.88" cy="244.45" r="3.5" fill="#4269d0"/><circle cx="326.61" cy="160.38" r="3.5" fill="#4269d0"/><circle cx="102.79" cy="229.61" r="3.5" fill="#4269d0"/><circle cx="261.42" cy="180.16" r="3.5" fill="#4269d0"/><circle cx="220.13" cy="264.23" r="3.5" fill="#4269d0"/><circle cx="139.73" cy="135.65" r="3.5" fill="#4269d0"/><circle cx="118.00" cy="298.84" r="3.5" fill="#4269d0"/><circle cx="246.21" cy="150.49" r="3.5" fill="#4269d0"/><circle cx="83.23" cy="244.45" r="3.5" fill="#4269d0"/><circle cx="263.59" cy="224.66" r="3.5" fill="#4269d0"/><circle cx="128.86" cy="165.32" r="3.5" fill="#4269d0"/><circle cx="94.09" cy="135.65" r="3.5" fill="#4269d0"/><circle cx="141.90" cy="214.77" r="3.5" fill="#4269d0"/><circle cx="228.82" cy="91.14" r="3.5" fill="#4269d0"/><circle cx="120.17" cy="130.70" r="3.5" fill="#4269d0"/><circle cx="133.21" cy="175.21" r="3.5" fill="#4269d0"/><circle cx="163.63" cy="145.54" r="3.5" fill="#4269d0"/><circle cx="176.67" cy="165.32" r="3.5" fill="#4269d0"/><circle cx="107.13" cy="204.88" r="3.5" fill="#4269d0"/><circle cx="224.48" cy="199.94" r="3.5" fill="#4269d0"/><circle cx="70.19" cy="249.39" r="3.5" fill="#4269d0"/><circle cx="191.88" cy="199.94" r="3.5" fill="#4269d0"/><circle cx="118.00" cy="239.50" r="3.5" fill="#4269d0"/><circle cx="217.96" cy="160.38" r="3.5" fill="#4269d0"/><circle cx="159.29" cy="175.21" r="3.5" fill="#4269d0"/><circle cx="207.09" cy="180.16" r="3.5" fill="#4269d0"/><circle cx="50.63" cy="298.84" r="3.5" fill="#4269d0"/><circle cx="270.11" cy="180.16" r="3.5" fill="#4269d0"/><circle cx="91.92" cy="209.83" r="3.5" fill="#4269d0"/><circle cx="222.31" cy="105.98" r="3.5" fill="#4269d0"/><circle cx="150.59" cy="303.79" r="3.5" fill="#4269d0"/><circle cx="152.77" cy="105.98" r="3.5" fill="#4269d0"/><circle cx="154.94" cy="175.21" r="3.5" fill="#4269d0"/><circle cx="194.05" cy="160.38" r="3.5" fill="#4269d0"/><circle cx="170.15" cy="244.45" r="3.5" fill="#4269d0"/><circle cx="161.46" cy="105.98" r="3.5" fill="#4269d0"/><circle cx="159.29" cy="254.34" r="3.5" fill="#4269d0"/><circle cx="270.11" cy="155.43" r="3.5" fill="#4269d0"/><circle cx="159.29" cy="279.06" r="3.5" fill="#4269d0"/><circle cx="322.27" cy="91.14" r="3.5" fill="#4269d0"/><circle cx="194.05" cy="219.72" r="3.5" fill="#4269d0"/><circle cx="248.38" cy="130.70" r="3.5" fill="#4269d0"/><circle cx="191.88" cy="71.36" r="3.5" fill="#4269d0"/><circle cx="259.25" cy="190.05" r="3.5" fill="#4269d0"/><circle cx="170.15" cy="254.34" r="3.5" fill="#4269d0"/><circle cx="141.90" cy="81.25" r="3.5" fill="#4269d0"/><circle cx="107.13" cy="254.34" r="3.5" fill="#4269d0"/><circle cx="224.48" cy="175.21" r="3.5" fill="#4269d0"/><circle cx="118.00" cy="244.45" r="3.5" fill="#4269d0"/><circle cx="150.59" cy="115.87" r="3.5" fill="#4269d0"/><circle cx="204.92" cy="254.34" r="3.5" fill="#4269d0"/><circle cx="231.00" cy="180.16" r="3.5" fill="#4269d0"/><circle cx="96.27" cy="308.73" r="3.5" fill="#4269d0"/><circle cx="213.61" cy="155.43" r="3.5" fill="#4269d0"/><circle cx="174.50" cy="224.66" r="3.5" fill="#4269d0"/><circle cx="233.17" cy="190.05" r="3.5" fill="#4269d0"/><circle cx="178.84" cy="249.39" r="3.5" fill="#4269d0"/><circle cx="289.67" cy="204.88" r="3.5" fill="#4269d0"/><circle cx="167.98" cy="209.83" r="3.5" fill="#4269d0"/><circle cx="267.94" cy="145.54" r="3.5" fill="#4269d0"/><circle cx="131.04" cy="180.16" r="3.5" fill="#4269d0"/><circle cx="146.25" cy="180.16" r="3.5" fill="#4269d0"/><circle cx="159.29" cy="224.66" r="3.5" fill="#4269d0"/><circle cx="224.48" cy="229.61" r="3.5" fill="#4269d0"/><circle cx="104.96" cy="229.61" r="3.5" fill="#4269d0"/><circle cx="204.92" cy="101.03" r="3.5" fill="#4269d0"/><circle cx="135.38" cy="279.06" r="3.5" fill="#4269d0"/><circle cx="194.05" cy="209.83" r="3.5" fill="#4269d0"/><circle cx="204.92" cy="249.39" r="3.5" fill="#4269d0"/><circle cx="213.61" cy="244.45" r="3.5" fill="#4269d0"/><circle cx="28.90" cy="328.51" r="3.5" fill="#4269d0"/><circle cx="215.79" cy="254.34" r="3.5" fill="#4269d0"/><circle cx="141.90" cy="264.23" r="3.5" fill="#4269d0"/><circle cx="178.84" cy="170.27" r="3.5" fill="#4269d0"/><circle cx="183.19" cy="175.21" r="3.5" fill="#4269d0"/><circle cx="126.69" cy="185.10" r="3.5" fill="#4269d0"/><circle cx="113.65" cy="214.77" r="3.5" fill="#4269d0"/><circle cx="152.77" cy="199.94" r="3.5" fill="#4269d0"/><circle cx="113.65" cy="249.39" r="3.5" fill="#4269d0"/><circle cx="233.17" cy="180.16" r="3.5" fill="#4269d0"/><circle cx="333.13" cy="442.25" r="3.5" fill="#ff725c"/><circle cx="417.88" cy="288.95" r="3.5" fill="#ff725c"/><circle cx="389.63" cy="397.75" r="3.5" fill="#ff725c"/><circle cx="417.88" cy="343.35" r="3.5" fill="#ff725c"/><circle cx="365.73" cy="377.97" r="3.5" fill="#ff725c"/><circle cx="341.83" cy="427.42" r="3.5" fill="#ff725c"/><circle cx="317.92" cy="373.02" r="3.5" fill="#ff725c"/><circle cx="346.17" cy="338.40" r="3.5" fill="#ff725c"/><circle cx="272.29" cy="432.36" r="3.5" fill="#ff725c"/><circle cx="348.34" cy="333.46" r="3.5" fill="#ff725c"/><circle cx="220.13" cy="417.53" r="3.5" fill="#ff725c"/><circle cx="396.15" cy="298.84" r="3.5" fill="#ff725c"/><circle cx="320.09" cy="417.53" r="3.5" fill="#ff725c"/><circle cx="383.11" cy="373.02" r="3.5" fill="#ff725c"/><circle cx="326.61" cy="373.02" r="3.5" fill="#ff725c"/><circle cx="402.67" cy="318.62" r="3.5" fill="#ff725c"/><circle cx="244.04" cy="427.42" r="3.5" fill="#ff725c"/><circle cx="400.50" cy="343.35" r="3.5" fill="#ff725c"/><circle cx="335.31" cy="377.97" r="3.5" fill="#ff725c"/><circle cx="389.63" cy="348.30" r="3.5" fill="#ff725c"/><circle cx="422.23" cy="387.86" r="3.5" fill="#ff725c"/><circle cx="311.40" cy="377.97" r="3.5" fill="#ff725c"/><circle cx="341.83" cy="377.97" r="3.5" fill="#ff725c"/><circle cx="337.48" cy="313.68" r="3.5" fill="#ff725c"/><circle cx="263.59" cy="447.20" r="3.5" fill="#ff725c"/><circle cx="333.13" cy="348.30" r="3.5" fill="#ff725c"/><circle cx="298.36" cy="387.86" r="3.5" fill="#ff725c"/><circle cx="370.08" cy="353.24" r="3.5" fill="#ff725c"/><circle cx="378.77" cy="387.86" r="3.5" fill="#ff725c"/><circle cx="417.88" cy="338.40" r="3.5" fill="#ff725c"/><circle cx="359.21" cy="338.40" r="3.5" fill="#ff725c"/><circle cx="261.42" cy="392.80" r="3.5" fill="#ff725c"/><circle cx="311.40" cy="377.97" r="3.5" fill="#ff725c"/><circle cx="626.50" cy="254.34" r="3.5" fill="#ff725c"/><circle cx="398.33" cy="363.13" r="3.5" fill="#ff725c"/><circle cx="383.11" cy="288.95" r="3.5" fill="#ff725c"/><circle cx="257.07" cy="417.53" r="3.5" fill="#ff725c"/><circle cx="296.19" cy="239.50" r="3.5" fill="#ff725c"/><circle cx="287.50" cy="422.47" r="3.5" fill="#ff725c"/><circle cx="389.63" cy="318.62" r="3.5" fill="#ff725c"/><circle cx="259.25" cy="417.53" r="3.5" fill="#ff725c"/><circle cx="409.19" cy="303.79" r="3.5" fill="#ff725c"/><circle cx="315.75" cy="417.53" r="3.5" fill="#ff725c"/><circle cx="409.19" cy="353.24" r="3.5" fill="#ff725c"/><circle cx="428.75" cy="308.73" r="3.5" fill="#ff725c"/><circle cx="278.81" cy="407.64" r="3.5" fill="#ff725c"/><circle cx="320.09" cy="407.64" r="3.5" fill="#ff725c"/><circle cx="428.75" cy="308.73" r="3.5" fill="#ff725c"/><circle cx="307.06" cy="437.31" r="3.5" fill="#ff725c"/><circle cx="313.57" cy="313.68" r="3.5" fill="#ff725c"/><circle cx="344.00" cy="392.80" r="3.5" fill="#ff725c"/><circle cx="385.29" cy="397.75" r="3.5" fill="#ff725c"/><circle cx="311.40" cy="382.91" r="3.5" fill="#ff725c"/><circle cx="420.06" cy="353.24" r="3.5" fill="#ff725c"/><circle cx="341.83" cy="382.91" r="3.5" fill="#ff725c"/><circle cx="309.23" cy="333.46" r="3.5" fill="#ff725c"/><circle cx="283.15" cy="407.64" r="3.5" fill="#ff725c"/><circle cx="320.09" cy="353.24" r="3.5" fill="#ff725c"/><circle cx="270.11" cy="377.97" r="3.5" fill="#ff725c"/><circle cx="426.58" cy="338.40" r="3.5" fill="#ff725c"/><circle cx="315.75" cy="412.58" r="3.5" fill="#ff725c"/><circle cx="335.31" cy="358.19" r="3.5" fill="#ff725c"/><circle cx="324.44" cy="407.64" r="3.5" fill="#ff725c"/><circle cx="511.33" cy="318.62" r="3.5" fill="#ff725c"/><circle cx="326.61" cy="392.80" r="3.5" fill="#ff725c"/><circle cx="413.54" cy="264.23" r="3.5" fill="#ff725c"/><circle cx="335.31" cy="382.91" r="3.5" fill="#ff725c"/><circle cx="407.02" cy="293.90" r="3.5" fill="#ff725c"/><circle cx="276.63" cy="392.80" r="3.5" fill="#ff725c"/><circle cx="433.09" cy="353.24" r="3.5" fill="#ff725c"/><circle cx="367.90" cy="353.24" r="3.5" fill="#ff725c"/><circle cx="339.65" cy="323.57" r="3.5" fill="#ff725c"/><circle cx="378.77" cy="323.57" r="3.5" fill="#ff725c"/><circle cx="341.83" cy="363.13" r="3.5" fill="#ff725c"/><circle cx="339.65" cy="353.24" r="3.5" fill="#ff725c"/><circle cx="387.46" cy="303.79" r="3.5" fill="#ff725c"/><circle cx="363.56" cy="392.80" r="3.5" fill="#ff725c"/><circle cx="441.79" cy="288.95" r="3.5" fill="#ff725c"/><circle cx="313.57" cy="412.58" r="3.5" fill="#ff725c"/><circle cx="313.57" cy="284.01" r="3.5" fill="#ff725c"/><circle cx="398.33" cy="377.97" r="3.5" fill="#ff725c"/><circle cx="472.21" cy="323.57" r="3.5" fill="#ff725c"/><circle cx="361.38" cy="373.02" r="3.5" fill="#ff725c"/><circle cx="417.88" cy="308.73" r="3.5" fill="#ff725c"/><circle cx="307.06" cy="412.58" r="3.5" fill="#ff725c"/><circle cx="435.27" cy="239.50" r="3.5" fill="#ff725c"/><circle cx="274.46" cy="382.91" r="3.5" fill="#ff725c"/><circle cx="446.13" cy="392.80" r="3.5" fill="#ff725c"/><circle cx="363.56" cy="402.69" r="3.5" fill="#ff725c"/><circle cx="463.52" cy="254.34" r="3.5" fill="#ff725c"/><circle cx="363.56" cy="353.24" r="3.5" fill="#ff725c"/><circle cx="465.69" cy="249.39" r="3.5" fill="#ff725c"/><circle cx="320.09" cy="377.97" r="3.5" fill="#ff725c"/><circle cx="407.02" cy="298.84" r="3.5" fill="#ff725c"/><circle cx="298.36" cy="368.08" r="3.5" fill="#ff725c"/><circle cx="435.27" cy="318.62" r="3.5" fill="#ff725c"/><circle cx="404.84" cy="313.68" r="3.5" fill="#ff725c"/><circle cx="350.52" cy="373.02" r="3.5" fill="#ff725c"/><circle cx="383.11" cy="382.91" r="3.5" fill="#ff725c"/><circle cx="441.79" cy="279.06" r="3.5" fill="#ff725c"/><circle cx="385.29" cy="353.24" r="3.5" fill="#ff725c"/><circle cx="546.10" cy="254.34" r="3.5" fill="#ff725c"/><circle cx="357.04" cy="328.51" r="3.5" fill="#ff725c"/><circle cx="398.33" cy="353.24" r="3.5" fill="#ff725c"/><circle cx="359.21" cy="412.58" r="3.5" fill="#ff725c"/><circle cx="348.34" cy="298.84" r="3.5" fill="#ff725c"/><circle cx="237.52" cy="368.08" r="3.5" fill="#ff725c"/><circle cx="491.77" cy="313.68" r="3.5" fill="#ff725c"/><circle cx="272.29" cy="402.69" r="3.5" fill="#ff725c"/><circle cx="376.59" cy="348.30" r="3.5" fill="#ff725c"/><circle cx="428.75" cy="343.35" r="3.5" fill="#ff725c"/><circle cx="413.54" cy="308.73" r="3.5" fill="#ff725c"/><circle cx="276.63" cy="343.35" r="3.5" fill="#ff725c"/><circle cx="450.48" cy="288.95" r="3.5" fill="#ff725c"/><circle cx="335.31" cy="397.75" r="3.5" fill="#ff725c"/><circle cx="528.71" cy="303.79" r="3.5" fill="#ff725c"/><circle cx="298.36" cy="318.62" r="3.5" fill="#ff725c"/><circle cx="391.81" cy="293.90" r="3.5" fill="#ff725c"/><circle cx="357.04" cy="417.53" r="3.5" fill="#ff725c"/><circle cx="348.34" cy="387.86" r="3.5" fill="#ff725c"/><circle cx="426.58" cy="318.62" r="3.5" fill="#ff725c"/><circle cx="313.57" cy="363.13" r="3.5" fill="#ff725c"/><circle cx="415.71" cy="298.84" r="3.5" fill="#ff725c"/><circle cx="341.83" cy="209.83" r="3.5" fill="#efb118"/><circle cx="417.88" cy="130.70" r="3.5" fill="#efb118"/><circle cx="446.13" cy="145.54" r="3.5" fill="#efb118"/><circle cx="317.92" cy="170.27" r="3.5" fill="#efb118"/><circle cx="476.56" cy="115.87" r="3.5" fill="#efb118"/><circle cx="313.57" cy="214.77" r="3.5" fill="#efb118"/><circle cx="333.13" cy="194.99" r="3.5" fill="#efb118"/><circle cx="446.13" cy="194.99" r="3.5" fill="#efb118"/><circle cx="330.96" cy="160.38" r="3.5" fill="#efb118"/><circle cx="446.13" cy="110.92" r="3.5" fill="#efb118"/><circle cx="344.00" cy="214.77" r="3.5" fill="#efb118"/><circle cx="454.83" cy="91.14" r="3.5" fill="#efb118"/><circle cx="352.69" cy="239.50" r="3.5" fill="#efb118"/><circle cx="461.35" cy="199.94" r="3.5" fill="#efb118"/><circle cx="328.79" cy="249.39" r="3.5" fill="#efb118"/><circle cx="428.75" cy="125.76" r="3.5" fill="#efb118"/><circle cx="424.40" cy="105.98" r="3.5" fill="#efb118"/><circle cx="591.73" cy="214.77" r="3.5" fill="#efb118"/><circle cx="339.65" cy="175.21" r="3.5" fill="#efb118"/><circle cx="400.50" cy="194.99" r="3.5" fill="#efb118"/><circle cx="252.73" cy="239.50" r="3.5" fill="#efb118"/><circle cx="385.29" cy="229.61" r="3.5" fill="#efb118"/><circle cx="270.11" cy="274.12" r="3.5" fill="#efb118"/><circle cx="430.92" cy="135.65" r="3.5" fill="#efb118"/><circle cx="346.17" cy="209.83" r="3.5" fill="#efb118"/><circle cx="461.35" cy="155.43" r="3.5" fill="#efb118"/><circle cx="428.75" cy="185.10" r="3.5" fill="#efb118"/><circle cx="407.02" cy="155.43" r="3.5" fill="#efb118"/><circle cx="339.65" cy="214.77" r="3.5" fill="#efb118"/><circle cx="478.73" cy="105.98" r="3.5" fill="#efb118"/><circle cx="220.13" cy="274.12" r="3.5" fill="#efb118"/><circle cx="509.15" cy="66.42" r="3.5" fill="#efb118"/><circle cx="254.90" cy="269.17" r="3.5" fill="#efb118"/><circle cx="439.61" cy="165.32" r="3.5" fill="#efb118"/><circle cx="411.36" cy="175.21" r="3.5" fill="#efb118"/><circle cx="363.56" cy="264.23" r="3.5" fill="#efb118"/><circle cx="365.73" cy="190.05" r="3.5" fill="#efb118"/><circle cx="461.35" cy="71.36" r="3.5" fill="#efb118"/><circle cx="350.52" cy="274.12" r="3.5" fill="#efb118"/><circle cx="493.94" cy="110.92" r="3.5" fill="#efb118"/><circle cx="396.15" cy="130.70" r="3.5" fill="#efb118"/><circle cx="335.31" cy="229.61" r="3.5" fill="#efb118"/><circle cx="437.44" cy="150.49" r="3.5" fill="#efb118"/><circle cx="320.09" cy="254.34" r="3.5" fill="#efb118"/><circle cx="437.44" cy="209.83" r="3.5" fill="#efb118"/><circle cx="435.27" cy="180.16" r="3.5" fill="#efb118"/><circle cx="420.06" cy="209.83" r="3.5" fill="#efb118"/><circle cx="396.15" cy="125.76" r="3.5" fill="#efb118"/><circle cx="450.48" cy="170.27" r="3.5" fill="#efb118"/><circle cx="413.54" cy="239.50" r="3.5" fill="#efb118"/><circle cx="376.59" cy="284.01" r="3.5" fill="#efb118"/><circle cx="448.31" cy="155.43" r="3.5" fill="#efb118"/><circle cx="324.44" cy="239.50" r="3.5" fill="#efb118"/><circle cx="433.09" cy="120.81" r="3.5" fill="#efb118"/><circle cx="254.90" cy="239.50" r="3.5" fill="#efb118"/><circle cx="465.69" cy="165.32" r="3.5" fill="#efb118"/><circle cx="313.57" cy="274.12" r="3.5" fill="#efb118"/><circle cx="402.67" cy="110.92" r="3.5" fill="#efb118"/><circle cx="422.23" cy="165.32" r="3.5" fill="#efb118"/><circle cx="322.27" cy="135.65" r="3.5" fill="#efb118"/><circle cx="459.17" cy="130.70" r="3.5" fill="#efb118"/><circle cx="348.34" cy="279.06" r="3.5" fill="#efb118"/><circle cx="324.44" cy="254.34" r="3.5" fill="#efb118"/><circle cx="543.92" cy="115.87" r="3.5" fill="#efb118"/><circle cx="276.63" cy="199.94" r="3.5" fill="#efb118"/><circle cx="409.19" cy="194.99" r="3.5" fill="#efb118"/><circle cx="435.27" cy="155.43" r="3.5" fill="#efb118"/><circle cx="422.23" cy="170.27" r="3.5" fill="#efb118"/></g>
</svg>
</body></html>
